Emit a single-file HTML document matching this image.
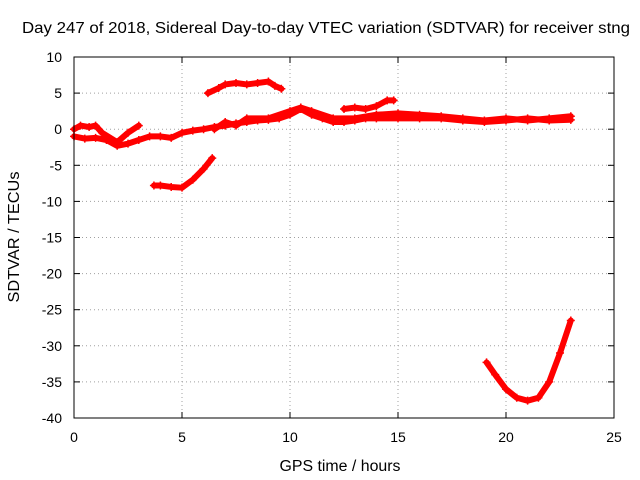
<!DOCTYPE html>
<html><head><meta charset="utf-8"><style>
body{margin:0;background:#fff;}
svg{display:block;font-family:"Liberation Sans",sans-serif;}
</style></head><body>
<svg id="c" width="640" height="480">
<rect width="640" height="480" fill="#fff"/>
<text x="326" y="33" font-size="15.5" text-anchor="middle" textLength="608" lengthAdjust="spacingAndGlyphs">Day 247 of 2018, Sidereal Day-to-day VTEC variation (SDTVAR) for receiver stng</text>
<text x="340" y="471" font-size="15.5" text-anchor="middle" textLength="121" lengthAdjust="spacingAndGlyphs">GPS time / hours</text>
<text x="0" y="0" font-size="15.5" text-anchor="middle" textLength="131" lengthAdjust="spacingAndGlyphs" transform="translate(19,237) rotate(-90)">SDTVAR / TECUs</text>
<g id="grid"></g>
<g id="ticks"></g>
<g id="series"></g>
<rect x="74" y="57" width="540" height="361" fill="none" stroke="#000"/>
</svg>
<script>
const xTicks=[0,5,10,15,20,25];
const yTicks=[10,5,0,-5,-10,-15,-20,-25,-30,-35,-40];
const main1=[[0,-1],[0.5,-1.3],[1,-1.2],[1.5,-1.5],[2,-2.3],[2.5,-2],[3,-1.5],[3.5,-1],[4,-1],[4.5,-1.2],[5,-0.5],[5.5,-0.2],[6,0],[6.5,0.3],[7,0.5],[7.5,0.8],[8,1],[8.5,1.2],[9,1.3],[9.5,1.5],[10,2],[10.5,2.8],[11,2],[11.5,1.5],[12,1],[12.5,1],[13,1.2],[13.5,1.5],[14,1.5],[15,1.5],[16,1.5],[17,1.5],[18,1.2],[19,1],[20,1.2],[21,1.5],[22,1.2],[23,1.3]];
const main2=[[0,0],[0.3,0.5],[0.7,0.3],[1,0.5],[1.3,-0.5],[2,-1.8],[2.5,-0.5],[3,0.5]];
const main3=[[6.5,0],[7,1],[7.5,0.5],[8,1.5],[9,1.5],[10,2.5],[10.5,3],[11,2.5],[12,1.5],[13,1.5],[14,2],[15,2.2],[16,2],[17,1.8],[18,1.5],[19,1.2],[20,1.5],[21,1.2],[22,1.5],[23,1.8]];
const upper=[[6.2,5],[6.7,5.7],[7,6.2],[7.5,6.4],[8,6.2],[8.5,6.4],[9,6.6],[9.3,6],[9.6,5.6]];
const third=[[12.5,2.8],[13,3],[13.5,2.8],[14,3.2],[14.5,4],[14.8,4]];
const low=[[3.7,-7.8],[4,-7.8],[4.5,-8],[5,-8.1],[5.5,-7],[6,-5.5],[6.4,-4]];
const dip=[[19.1,-32.3],[19.5,-34],[20,-36],[20.5,-37.2],[21,-37.6],[21.5,-37.2],[22,-35],[22.5,-31],[23,-26.5]];
const NS='http://www.w3.org/2000/svg';
const X=v=>74+v*21.6, Y=v=>129.2-v*7.22;
function mk(t,a,p){const e=document.createElementNS(NS,t);for(const k in a)e.setAttribute(k,a[k]);p.appendChild(e);return e;}
const g=document.getElementById('grid'),tk=document.getElementById('ticks'),s=document.getElementById('series');
xTicks.forEach(v=>{const x=X(v);
 if(v>0&&v<25){const l=mk('line',{x1:x,x2:x,y1:57,y2:418,stroke:'#a0a0a0','stroke-dasharray':'1,3'},g);
 
 }
 mk('line',{x1:x,x2:x,y1:418,y2:412,stroke:'#000'},tk);mk('line',{x1:x,x2:x,y1:57,y2:63,stroke:'#000'},tk);
 const t=mk('text',{x:x,y:442,'font-size':14,'text-anchor':'middle'},tk);t.textContent=v;
 
 });
yTicks.forEach(v=>{const y=Y(v);
 if(v<10&&v>-40){const l=mk('line',{x1:74,x2:614,y1:y,y2:y,stroke:'#a0a0a0','stroke-dasharray':'1,3'},g);
 
 }
 mk('line',{x1:74,x2:80,y1:y,y2:y,stroke:'#000'},tk);mk('line',{x1:614,x2:608,y1:y,y2:y,stroke:'#000'},tk);
 const t=mk('text',{x:62,y:y+5,'font-size':14,'text-anchor':'end'},tk);t.textContent=v;
 
 });
[['main-trace-1',main1],['main-trace-2',main2],['main-trace-3',main3],['upper-trace',upper],['third-trace',third],['low-trace',low],['dip-trace',dip]].forEach(([n,d])=>{
 const p=mk('polyline',{points:d.map(q=>X(q[0])+','+Y(q[1])).join(' '),fill:'none',stroke:'#f00','stroke-width':6,'stroke-linejoin':'round','stroke-linecap':'round'},s);
 
 
 d.forEach(q=>{const x=X(q[0]),y=Y(q[1]);
  const m=mk('path',{d:`M${x-4},${y}h8M${x},${y-4}v8`,stroke:'#f00','stroke-width':1.5},s);
  
  });
});
</script>
</body></html>
